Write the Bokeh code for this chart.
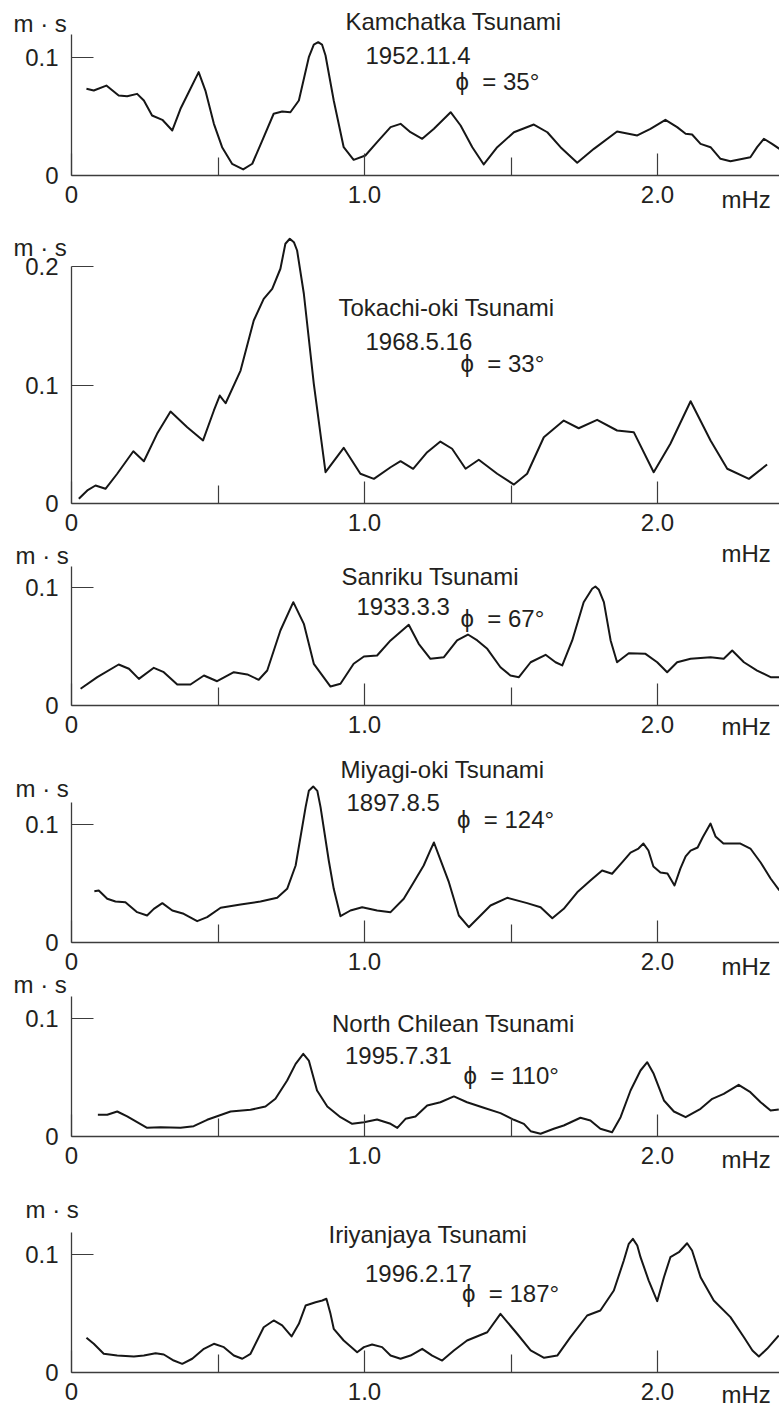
from bokeh.plotting import figure
from bokeh.models import Range1d, FixedTicker, CustomJSTickFormatter, Label, LinearAxis
from bokeh.embed import file_html
from bokeh.resources import INLINE

# ---------------- data ----------------
titles = ["Kamchatka Tsunami", "Tokachi-oki Tsunami", "Sanriku Tsunami",
          "Miyagi-oki Tsunami", "North Chilean Tsunami", "Iriyanjaya Tsunami"]
dates = ["1952.11.4", "1968.5.16", "1933.3.3", "1897.8.5", "1995.7.31", "1996.2.17"]
azimuths = ["ϕ\u00a0\u00a0= 35°", "ϕ\u00a0\u00a0= 33°", "ϕ\u00a0\u00a0= 67°",
            "ϕ\u00a0\u00a0= 124°", "ϕ\u00a0\u00a0= 110°", "ϕ\u00a0\u00a0= 187°"]
y_unit = "m · s"
x_unit = "mHz"
x_major_ticks = [0, 1.0, 2.0]
x_minor_ticks = [0.5, 1.5]
y_ticks = [[0, 0.1], [0, 0.1, 0.2], [0, 0.1], [0, 0.1], [0, 0.1], [0, 0.1]]

kam_f = [0.051,0.076,0.119,0.161,0.190,0.224,0.247,0.275,0.310,0.344,0.372,0.400,0.434,0.457,0.486,0.514,
         0.548,0.586,0.617,0.651,0.690,0.719,0.747,0.776,0.810,0.827,0.842,0.855,0.867,0.895,0.929,0.963,1.003,1.043,
         1.089,1.123,1.157,1.197,1.237,1.294,1.328,1.368,1.407,1.453,1.510,1.578,1.624,1.669,1.726,1.783,
         1.862,1.931,1.976,2.027,2.067,2.096,2.118,2.147,2.181,2.215,2.249,2.317,2.340,2.363,2.391,2.416]
kam_v = [0.0732,0.0717,0.0759,0.0675,0.0669,0.0689,0.0633,0.0506,0.0470,0.0380,0.0563,0.0703,0.0872,0.0717,0.0436,0.0239,
         0.0099,0.0051,0.0099,0.0295,0.0521,0.0540,0.0534,0.0633,0.0998,0.1105,0.1125,0.1105,0.1013,0.0633,0.0239,0.0132,0.0169,0.0281,
         0.0408,0.0436,0.0365,0.0310,0.0394,0.0534,0.0422,0.0239,0.0093,0.0239,0.0365,0.0430,0.0365,0.0239,0.0107,0.0225,
         0.0371,0.0338,0.0394,0.0470,0.0408,0.0352,0.0346,0.0267,0.0239,0.0141,0.0121,0.0154,0.0239,0.0310,0.0267,0.0225]

tok_f = [0.025,0.054,0.082,0.116,0.156,0.211,0.247,0.292,0.338,0.395,0.449,0.486,0.506,0.526,0.577,0.622,0.656,
         0.685,0.713,0.730,0.745,0.759,0.770,0.793,0.827,0.867,0.929,0.986,1.032,1.089,1.123,1.166,1.214,1.259,1.299,1.345,
         1.390,1.453,1.510,1.555,1.612,1.680,1.731,1.794,1.862,1.919,1.987,2.044,2.113,2.181,2.238,2.312,2.374]
tok_v = [0.0040,0.0110,0.0152,0.0124,0.0251,0.0441,0.0357,0.0588,0.0776,0.0644,0.0532,0.0785,0.0911,0.0846,0.1122,0.1544,0.1727,
         0.1812,0.1981,0.2192,0.2234,0.2205,0.2135,0.1770,0.1010,0.0264,0.0470,0.0251,0.0208,0.0306,0.0357,0.0293,0.0433,0.0523,0.0462,0.0293,
         0.0369,0.0251,0.0160,0.0251,0.0559,0.0700,0.0635,0.0706,0.0616,0.0602,0.0264,0.0504,0.0863,0.0532,0.0293,0.0208,0.0329]

san_f = [0.031,0.088,0.161,0.196,0.230,0.281,0.315,0.361,0.406,0.452,0.497,0.554,0.600,0.639,0.668,0.713,0.757,
         0.793,0.827,0.884,0.918,0.963,0.998,1.043,1.089,1.151,1.185,1.225,1.271,1.316,1.353,1.385,1.419,1.464,
         1.498,1.527,1.567,1.618,1.652,1.675,1.709,1.748,1.777,1.788,1.800,1.817,1.840,1.862,1.902,1.959,1.999,2.033,2.067,
         2.113,2.181,2.226,2.255,2.295,2.340,2.386,2.416]
san_v = [0.0141,0.0239,0.0346,0.0310,0.0225,0.0318,0.0281,0.0177,0.0177,0.0253,0.0205,0.0281,0.0262,0.0217,0.0295,0.0633,0.0872,
         0.0689,0.0352,0.0160,0.0183,0.0352,0.0414,0.0422,0.0549,0.0681,0.0521,0.0394,0.0408,0.0549,0.0599,0.0549,0.0478,0.0323,
         0.0253,0.0239,0.0365,0.0428,0.0365,0.0338,0.0549,0.0872,0.0985,0.1004,0.0976,0.0872,0.0549,0.0365,0.0441,0.0436,0.0365,0.0281,0.0365,
         0.0394,0.0408,0.0394,0.0464,0.0365,0.0295,0.0239,0.0239]

miy_f = [0.078,0.093,0.122,0.150,0.184,0.224,0.258,0.281,0.310,0.344,0.383,0.429,0.463,0.509,0.577,0.645,0.702,
         0.736,0.765,0.799,0.810,0.825,0.839,0.850,0.878,0.895,0.918,0.952,0.992,1.043,1.089,1.134,1.168,1.202,1.225,1.237,
         1.259,1.288,1.322,1.356,1.430,1.487,1.555,1.601,1.641,1.680,1.726,1.771,1.811,1.845,1.880,1.908,1.935,
         1.952,1.969,1.986,2.010,2.034,2.058,2.078,2.096,2.113,2.137,2.154,2.181,2.198,2.225,2.283,2.317,2.352,
         2.386,2.416]
miy_v = [0.0433,0.0439,0.0369,0.0346,0.0340,0.0256,0.0228,0.0284,0.0332,0.0270,0.0242,0.0180,0.0214,0.0293,0.0321,0.0346,0.0377,
         0.0453,0.0650,0.1142,0.1280,0.1316,0.1280,0.1142,0.0692,0.0453,0.0222,0.0270,0.0298,0.0270,0.0256,0.0369,0.0509,0.0650,0.0780,0.0844,
         0.0700,0.0509,0.0228,0.0129,0.0312,0.0377,0.0332,0.0298,0.0205,0.0284,0.0424,0.0523,0.0608,0.0580,0.0678,0.0759,0.0793,
         0.0835,0.0776,0.0641,0.0591,0.0582,0.0481,0.0624,0.0726,0.0776,0.0802,0.0886,0.1004,0.0895,0.0835,0.0835,0.0793,0.0675,
         0.0540,0.0439]

chi_f = [0.090,0.122,0.156,0.190,0.224,0.258,0.304,0.372,0.417,0.463,0.497,0.543,0.611,0.662,0.696,0.736,0.765,
         0.791,0.810,0.838,0.873,0.918,0.958,0.998,1.043,1.089,1.112,1.140,1.174,1.214,1.259,1.305,1.350,1.407,
         1.464,1.510,1.544,1.567,1.601,1.646,1.680,1.737,1.771,1.805,1.845,1.874,1.908,1.942,1.965,1.987,2.022,
         2.056,2.096,2.147,2.187,2.226,2.277,2.317,2.352,2.386,2.414]
chi_v = [0.0183,0.0183,0.0211,0.0169,0.0121,0.0073,0.0079,0.0073,0.0087,0.0141,0.0171,0.0211,0.0225,0.0253,0.0318,0.0473,0.0613,
         0.0698,0.0641,0.0388,0.0253,0.0163,0.0107,0.0121,0.0143,0.0107,0.0073,0.0149,0.0169,0.0262,0.0289,0.0338,0.0289,0.0242,
         0.0197,0.0141,0.0107,0.0045,0.0023,0.0065,0.0093,0.0158,0.0135,0.0065,0.0036,0.0163,0.0388,0.0557,0.0627,0.0529,0.0304,
         0.0211,0.0163,0.0234,0.0318,0.0360,0.0436,0.0374,0.0289,0.0219,0.0228]

iri_f = [0.051,0.076,0.110,0.156,0.213,0.247,0.287,0.315,0.349,0.378,0.412,0.452,0.486,0.520,0.554,0.583,0.611,
         0.656,0.690,0.719,0.751,0.776,0.799,0.833,0.856,0.870,0.884,0.895,0.929,0.975,0.998,1.026,1.060,1.089,
         1.123,1.157,1.197,1.231,1.265,1.305,1.350,1.419,1.464,1.521,1.567,1.613,1.658,1.703,1.760,1.805,1.851,
         1.885,1.902,1.916,1.931,1.942,1.970,1.999,2.022,2.044,2.073,2.101,2.118,2.147,2.192,2.249,2.295,2.324,2.346,2.374,2.414]
iri_v = [0.0293,0.0242,0.0158,0.0143,0.0135,0.0143,0.0163,0.0152,0.0101,0.0073,0.0116,0.0200,0.0242,0.0214,0.0143,0.0116,0.0158,
         0.0382,0.0439,0.0397,0.0304,0.0411,0.0565,0.0593,0.0608,0.0622,0.0495,0.0369,0.0270,0.0171,0.0214,0.0236,0.0214,0.0143,
         0.0116,0.0143,0.0200,0.0143,0.0101,0.0186,0.0270,0.0340,0.0495,0.0327,0.0186,0.0124,0.0143,0.0298,0.0481,0.0523,0.0692,
         0.0945,0.1086,0.1128,0.1072,0.0973,0.0776,0.0602,0.0804,0.0973,0.1015,0.1091,0.1030,0.0804,0.0608,0.0467,0.0298,0.0186,0.0135,0.0200,0.0312]

series_f = [kam_f, tok_f, san_f, miy_f, chi_f, iri_f]
series_v = [kam_v, tok_v, san_v, miy_v, chi_v, iri_v]

# ---------------- layout / style ----------------
FONT = "Liberation Sans"
FS = "24px"
TXT = "#231f20"
AXC = "#3c3c3c"
LINEC = "#161616"
W, H = 779, 1408
X0 = 71.0              # canvas x of frequency 0
PX_X = 293.0           # px per mHz
PX_Y = 1185.0          # px per m*s
X_END = (W - X0) / PX_X

panel_base = [175, 503, 705, 942, 1136, 1372]          # canvas y of each zero line
panel_axis_top = [0.119, 0.200, 0.117, 0.118, 0.118, 0.118]
MID = 8.6   # cap-centre above the text baseline

# text placements (canvas x of ink start, canvas y of text baseline)
pos_unit_y = [(13, 31.7), (13, 256), (15, 563.3), (15, 797), (13, 993), (25, 1218)]
pos_title = [(345, 30), (338, 316), (341, 585), (340, 778), (331.5, 1031.7), (328, 1243)]
pos_date = [(365, 63.3), (365, 350), (356, 615), (346, 811), (344.5, 1063.3), (364.5, 1281.7)]
pos_phi = [(455, 89.3), (460, 371.7), (460, 626.7), (456.5, 828), (463, 1083.3), (461.5, 1301.7)]
pos_unit_x = [(721, 208), (721, 561.7), (721, 735), (721, 975), (721, 1168), (721, 1403)]

names = ["default", "p1", "p2", "p3", "p4", "p5"]


def yrange(base):
    return Range1d((base - H) / PX_Y, base / PX_Y)


p = figure(width=W, height=H, title=None,
           x_range=Range1d(-X0 / PX_X, X_END), y_range=yrange(panel_base[0]),
           x_axis_location=None, y_axis_location=None, min_border=0,
           output_backend="svg", toolbar_location=None,
           outline_line_color=None, background_fill_color="white", border_fill_color="white")
p.extra_y_ranges = {names[i]: yrange(panel_base[i]) for i in range(1, 6)}
p.grid.visible = False

x_fmt = CustomJSTickFormatter(code="return tick == 0 ? '0' : tick.toFixed(1);")


def style_axis(ax):
    ax.axis_line_color = AXC
    ax.axis_line_width = 1.3
    ax.major_tick_line_color = AXC
    ax.major_tick_line_width = 1.2
    ax.minor_tick_line_color = AXC
    ax.minor_tick_line_width = 1.2
    ax.major_label_text_font = FONT
    ax.major_label_text_font_size = FS
    ax.major_label_text_color = TXT


for i in range(6):
    nm = names[i]
    xa = LinearAxis(fixed_location=0, y_range_name=nm,
                    ticker=FixedTicker(ticks=x_major_ticks, minor_ticks=x_minor_ticks),
                    formatter=x_fmt, bounds=(0, X_END),
                    major_tick_in=22, major_tick_out=0, minor_tick_in=18, minor_tick_out=0,
                    major_label_standoff=10)
    style_axis(xa)
    p.add_layout(xa, "below")

    ya = LinearAxis(fixed_location=0, y_range_name=nm,
                    ticker=FixedTicker(ticks=y_ticks[i], minor_ticks=[]),
                    bounds=(0, panel_axis_top[i]),
                    major_tick_in=22, major_tick_out=0, minor_tick_in=0, minor_tick_out=0,
                    major_label_standoff=13)
    style_axis(ya)
    p.add_layout(ya, "left")

    p.line(series_f[i], series_v[i], y_range_name=nm,
           line_color=LINEC, line_width=2.0, line_join="round")


def add_text(xc, yc, txt):
    # positions are canvas pixels; mapped through the default (first panel) scales
    lab = Label(x=(xc - X0) / PX_X, y=(panel_base[0] - (yc - MID)) / PX_Y, text=txt,
                text_font=FONT, text_font_size=FS, text_color=TXT,
                text_align="left", text_baseline="middle")
    p.add_layout(lab)


for i in range(6):
    add_text(*pos_unit_y[i], y_unit)
    add_text(*pos_title[i], titles[i])
    add_text(*pos_date[i], dates[i])
    add_text(*pos_phi[i], azimuths[i])
    add_text(*pos_unit_x[i], x_unit)

open("out.html", "w").write(file_html(p, INLINE))
